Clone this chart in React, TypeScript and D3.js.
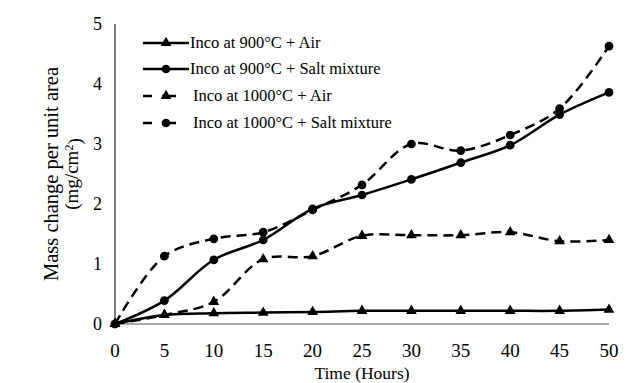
import { useEffect, useRef } from "react"
import * as d3 from "d3"

const hours = [0, 5, 10, 15, 20, 25, 30, 35, 40, 45, 50]
const air900 = [0, 0.15, 0.18, 0.19, 0.2, 0.22, 0.22, 0.22, 0.22, 0.22, 0.24]
const salt900 = [0, 0.39, 1.07, 1.4, 1.92, 2.15, 2.41, 2.69, 2.98, 3.49, 3.86]
const air1000 = [0, 0.15, 0.37, 1.08, 1.13, 1.47, 1.48, 1.48, 1.53, 1.38, 1.4]
const salt1000 = [0, 1.13, 1.42, 1.53, 1.9, 2.32, 3.0, 2.89, 3.15, 3.59, 4.63]
const seriesNames = [
  "Inco at 900°C + Air",
  "Inco at 900°C + Salt mixture",
  "Inco at 1000°C + Air",
  "Inco at 1000°C + Salt mixture",
]
const yTicks = [0, 1, 2, 3, 4, 5]
const xTicks = [0, 5, 10, 15, 20, 25, 30, 35, 40, 45, 50]

export default function App() {
  const ref = useRef<SVGSVGElement>(null)

  useEffect(() => {
    const svg = d3.select(ref.current)
    svg.selectAll("*").remove()

    const x = d3.scaleLinear().domain([0, 50]).range([115, 609])
    const y = d3.scaleLinear().domain([0, 5]).range([324, 24])

    const series = [
      { name: seriesNames[0], values: air900, dashed: false, marker: "triangle" },
      { name: seriesNames[1], values: salt900, dashed: false, marker: "circle" },
      { name: seriesNames[2], values: air1000, dashed: true, marker: "triangle" },
      { name: seriesNames[3], values: salt1000, dashed: true, marker: "circle" },
    ]

    // axes (lines only, no tick marks)
    svg.append("line")
      .attr("x1", x(0)).attr("x2", x(0))
      .attr("y1", y(5)).attr("y2", y(0))
      .attr("stroke", "#000").attr("stroke-width", 1)
    svg.append("line")
      .attr("x1", x(0)).attr("x2", x(50))
      .attr("y1", y(0)).attr("y2", y(0))
      .attr("stroke", "#555").attr("stroke-width", 1)

    svg.selectAll(".ytick")
      .data(yTicks)
      .enter().append("text")
      .attr("x", 102)
      .attr("y", d => y(d))
      .attr("dy", "0.33em")
      .attr("text-anchor", "end")
      .attr("font-size", 18)
      .text(d => d)

    svg.selectAll(".xtick")
      .data(xTicks)
      .enter().append("text")
      .attr("x", d => x(d))
      .attr("y", 357)
      .attr("text-anchor", "middle")
      .attr("font-size", 19)
      .text(d => d)

    svg.append("text")
      .attr("x", 362).attr("y", 379)
      .attr("text-anchor", "middle")
      .attr("font-size", 17.5)
      .text("Time (Hours)")

    const yTitle = svg.append("g").attr("transform", "translate(58,174) rotate(-90)")
    yTitle.append("text")
      .attr("text-anchor", "middle")
      .attr("font-size", 20.5)
      .text("Mass change per unit area")
    const t2 = yTitle.append("text")
      .attr("y", 20)
      .attr("text-anchor", "middle")
      .attr("font-size", 19)
    t2.append("tspan").text("(mg/cm")
    t2.append("tspan").attr("dy", "-0.45em").attr("font-size", 12).text("2")
    t2.append("tspan").attr("dy", "0.45em").text(")")

    const line = d3.line<number>()
      .x((_, i) => x(hours[i]))
      .y(d => y(d))
      .curve(d3.curveCatmullRom.alpha(0.5))

    const tri = d3.symbol().type(d3.symbolTriangle).size(50)
    const circ = d3.symbol().type(d3.symbolCircle).size(60)

    const drawMarker = (g: any, cx: number, cy: number, kind: string) => {
      g.append("path")
        .attr("d", kind === "triangle" ? tri() : circ())
        .attr("transform", `translate(${cx},${cy})`)
        .attr("fill", "#000")
    }

    series.forEach(s => {
      svg.append("path")
        .datum(s.values)
        .attr("d", line)
        .attr("fill", "none")
        .attr("stroke", "#000")
        .attr("stroke-width", 2.5)
        .attr("stroke-dasharray", s.dashed ? "10,6" : null)
      const g = svg.append("g")
      s.values.forEach((v, i) => drawMarker(g, x(hours[i]), y(v), s.marker))
    })

    // legend
    const legendY = [43, 69, 96, 123]
    series.forEach((s, i) => {
      const ly = legendY[i]
      const g = svg.append("g")
      g.append("line")
        .attr("x1", 143).attr("x2", s.dashed ? 176 : 189)
        .attr("y1", ly).attr("y2", ly)
        .attr("stroke", "#000")
        .attr("stroke-width", 2.5)
        .attr("stroke-dasharray", s.dashed ? "9,10,14,100" : null)
      drawMarker(g, 166, ly, s.marker)
      g.append("text")
        .attr("x", s.dashed ? 193 : 190)
        .attr("y", ly)
        .attr("dy", "0.33em")
        .attr("font-size", 16.5)
        .text(s.name)
    })
  }, [])

  return (
    <svg
      ref={ref}
      width={634}
      height={383}
      fontFamily="'Liberation Serif', 'Times New Roman', serif"
      style={{ position: "absolute", left: 0, top: 0, background: "#fff" }}
    />
  )
}
